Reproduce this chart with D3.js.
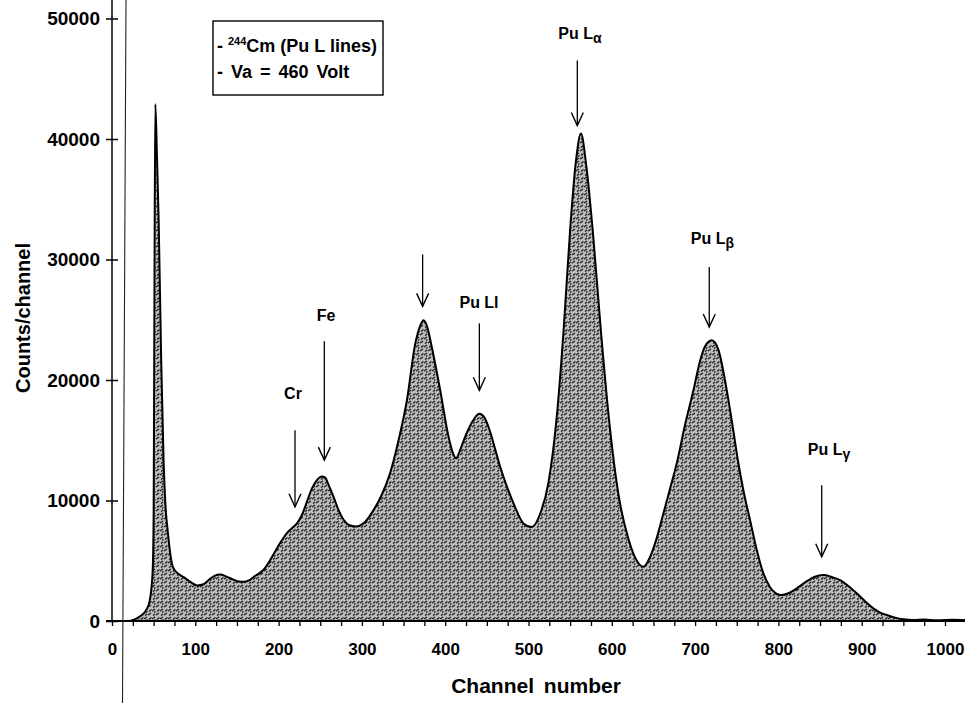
<!DOCTYPE html>
<html><head><meta charset="utf-8">
<script src="https://cdn.jsdelivr.net/npm/d3@7"></script>
<style>
body{margin:0;background:#fff;}
svg{display:block;font-family:"Liberation Sans",Arial,Helvetica,sans-serif;font-weight:bold;}
</style></head><body>
<svg id="chart" width="970" height="703"></svg>
<script>
// 244Cm source spectrum (Pu L lines), counts per channel
const channels = [0,20,28,35,41,45,47,49,50,51,52,54,56,59,62,64,67,73,80,87,95,102,110,116,123,130,137,145,152,158,165,172,182,192,202,210,216,222,228,234,240,246,252,256,260,266,272,278,285,293,302,314,324,334,344,354,364,370,374,378,384,394,404,409,413,418,424,434,441,447,452,466,482,494,504,514,524,534,542,550,557,563,569,577,587,597,608,620,630,638,646,654,662,670,678,688,698,706,712,720,728,738,745,752,759,766,774,782,790,797,804,812,822,832,843,854,864,874,884,894,904,914,922,930,940,950,962,975,990,1010,1024];
const counts = [0,0,150,450,900,1600,2500,4500,9000,28000,42900,38500,33300,21800,13100,9800,7400,4500,3900,3600,3200,2950,3050,3400,3750,3850,3700,3450,3280,3250,3400,3750,4250,5300,6500,7300,7700,8100,8800,9900,11000,11700,12000,11900,11300,10300,9200,8400,7950,7850,8100,9200,10500,12300,15000,18300,23000,24500,24950,24500,22700,19150,15300,14000,13500,14200,15300,16700,17200,16900,16100,12800,9760,8100,7800,8900,11500,17000,24000,32500,38200,40450,38000,32500,24000,16500,10500,6800,5000,4500,5330,6900,8950,11000,13100,16300,19150,21600,22800,23300,22500,19150,16200,13070,10500,8370,5900,3950,2800,2300,2150,2300,2710,3200,3650,3810,3650,3400,2900,2300,1650,1050,700,500,280,140,80,120,60,100,80];

// axis ticks
const xTickValues = d3.range(0, 1001, 25);
const xLabelValues = [0,100,200,300,400,500,600,700,800,900,1000];
const yTickValues = [0,10000,20000,30000,40000,50000];

// peak annotations: label, subscript, arrow channel, arrow tip / tail counts, label position
const peakBase    = ["Cr","Fe","","Pu Ll","Pu L","Pu L","Pu L"];
const peakSub     = ["","","","","α","β","γ"];
const arrowChan   = [219.7,254.9,372.9,441,558.6,717,852];
const arrowTip    = [9475,13350,26110,19150,41120,24400,5330];
const arrowTail   = [15830,23210,30420,24700,46510,29370,11270];
const labelChan   = [217.3,256.9,null,440.6,561.8,720.8,860.8];
const labelCounts = [18400,24870,null,25950,48330,31250,13760];

const svg = d3.select("#chart");
const x = d3.scaleLinear().domain([0,1024]).range([112, 112 + 1024*0.833]);
const y = d3.scaleLinear().domain([0,50000]).range([621, 18.5]);

// halftone-like fill texture
const defs = svg.append("defs");
const pat = defs.append("pattern").attr("id","grain").attr("patternUnits","userSpaceOnUse")
  .attr("width",8).attr("height",8);
pat.append("rect").attr("width",8).attr("height",8).attr("fill","#bcbcbc");
pat.append("path").attr("d","M0,3 l3,-2 M4,7 l3,-2 M1,7.5 l2,-1.5 M5,3.5 l2.5,-2 M2,4.5 l1.5,-1")
  .attr("stroke","#151515").attr("stroke-width",1.2).attr("fill","none");

const data = channels.map((c,i)=>({c, v: counts[i]}));

svg.append("path").datum(data)
  .attr("fill","url(#grain)")
  .attr("d", d3.area().x(d=>x(d.c)).y0(y(0)).y1(d=>y(d.v)).curve(d3.curveMonotoneX));
svg.append("path").datum(data)
  .attr("fill","none").attr("stroke","#000").attr("stroke-width",2)
  .attr("d", d3.line().x(d=>x(d.c)).y(d=>y(d.v)).curve(d3.curveMonotoneX));

// x axis
const xAxis = svg.append("g").attr("transform",`translate(0,${y(0)})`)
  .call(d3.axisBottom(x).tickValues(xTickValues).tickSize(5)
    .tickFormat(d => xLabelValues.includes(d) ? d : ""));
xAxis.select(".domain").remove();
xAxis.append("line").attr("x1",106).attr("x2",x(1024)).attr("stroke","#000").attr("stroke-width",2);
xAxis.selectAll(".tick line").attr("stroke","#000").attr("stroke-width",1.3);
xAxis.selectAll(".tick text").attr("y",34).attr("dy",0)
  .style("font-size","17px").style("font-weight","bold").attr("fill","#000")
  .style("font-family","'Liberation Sans',Arial,sans-serif");

// y axis
const yAxis = svg.append("g").attr("transform",`translate(${x(0)},0)`)
  .call(d3.axisLeft(y).tickValues(yTickValues).tickSize(6).tickPadding(6).tickFormat(d3.format("d")));
yAxis.select(".domain").remove();
yAxis.append("line").attr("y1",0).attr("y2",y(0)).attr("stroke","#000").attr("stroke-width",1.5);
yAxis.selectAll(".tick line").attr("x1",6).attr("stroke","#000").attr("stroke-width",1.5);
yAxis.selectAll(".tick text").style("font-size","19px").style("font-weight","bold").attr("fill","#000")
  .style("font-family","'Liberation Sans',Arial,sans-serif");

// vertical rule beside the value axis
svg.append("line").attr("x1",126).attr("y1",0).attr("x2",122.5).attr("y2",703)
  .attr("stroke","#222").attr("stroke-width",1.1);

// axis titles
svg.append("text").attr("x",536).attr("y",693).attr("text-anchor","middle")
  .style("font-size","21px").style("word-spacing","4px").text("Channel number");
svg.append("text").attr("transform","translate(30,318) rotate(-90)").attr("text-anchor","middle")
  .style("font-size","20px").text("Counts/channel");

// legend box
svg.append("rect").attr("x",213).attr("y",21).attr("width",170).attr("height",74)
  .attr("fill","#fff").attr("stroke","#000").attr("stroke-width",1.4);
const l1 = svg.append("text").attr("x",217).attr("y",52).style("font-size","18px");
l1.append("tspan").text("- ");
l1.append("tspan").attr("dy",-7).style("font-size","11px").text("244");
l1.append("tspan").attr("dy",7).text("Cm (Pu L lines)");
svg.append("text").attr("x",217).attr("y",78).style("font-size","18px").style("word-spacing","3px")
  .text("- Va = 460 Volt");

// peak arrows and labels
arrowChan.forEach((c,i)=>{
  const ax = x(c), yt = y(arrowTip[i]), ys = y(arrowTail[i]);
  svg.append("line").attr("x1",ax).attr("x2",ax).attr("y1",ys).attr("y2",yt)
    .attr("stroke","#000").attr("stroke-width",1.3);
  svg.append("path").attr("d",`M${ax-6},${yt-13}L${ax},${yt}L${ax+6},${yt-13}`)
    .attr("fill","none").attr("stroke","#000").attr("stroke-width",1.4);
  if (peakBase[i]) {
    const t = svg.append("text").attr("x",x(labelChan[i])).attr("y",y(labelCounts[i]))
      .attr("text-anchor","middle").style("font-size","16px");
    t.append("tspan").text(peakBase[i]);
    if (peakSub[i]) t.append("tspan").attr("dy",4).style("font-size","14px").text(peakSub[i]);
  }
});
</script>
</body></html>
